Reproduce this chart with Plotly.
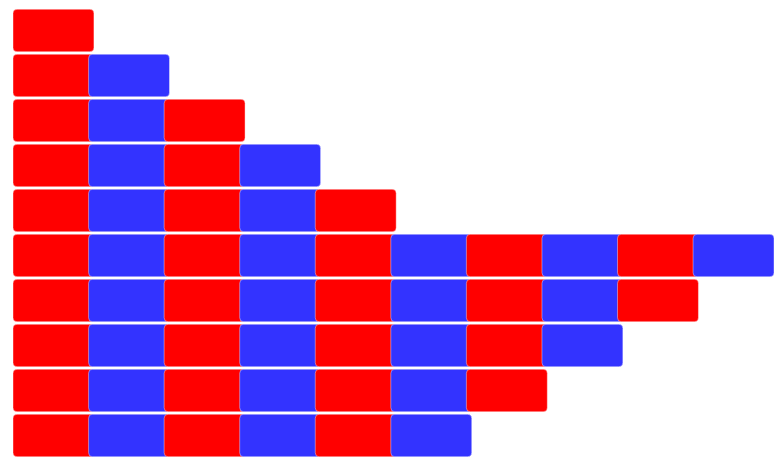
import plotly.graph_objects as go

rows = ["r1", "r2", "r3", "r4", "r5", "r6", "r7", "r8", "r9", "r10"]
segment_counts = [1, 2, 3, 4, 5, 10, 9, 8, 7, 6]
segment_step = 1.0
segment_length = 1.071
colors = ["#ff0000", "#3333ff"]

fig = go.Figure()
for i in range(10):
    xs = [segment_length if c > i else None for c in segment_counts]
    fig.add_trace(go.Bar(
        y=rows, x=xs, base=i * segment_step, orientation="h",
        marker=dict(color=colors[i % 2], cornerradius=4,
                    line=dict(color="rgba(255,255,255,0.4)", width=1)),
        showlegend=False,
    ))

fig.update_layout(
    barmode="overlay", bargap=0.055,
    width=776, height=450,
    margin=dict(l=5, r=10, t=0, b=0),
    plot_bgcolor="white", paper_bgcolor="white",
    xaxis=dict(visible=False, range=[0, 9 * segment_step + segment_length]),
    yaxis=dict(visible=False, autorange="reversed"),
)
fig.write_html("out.html")
